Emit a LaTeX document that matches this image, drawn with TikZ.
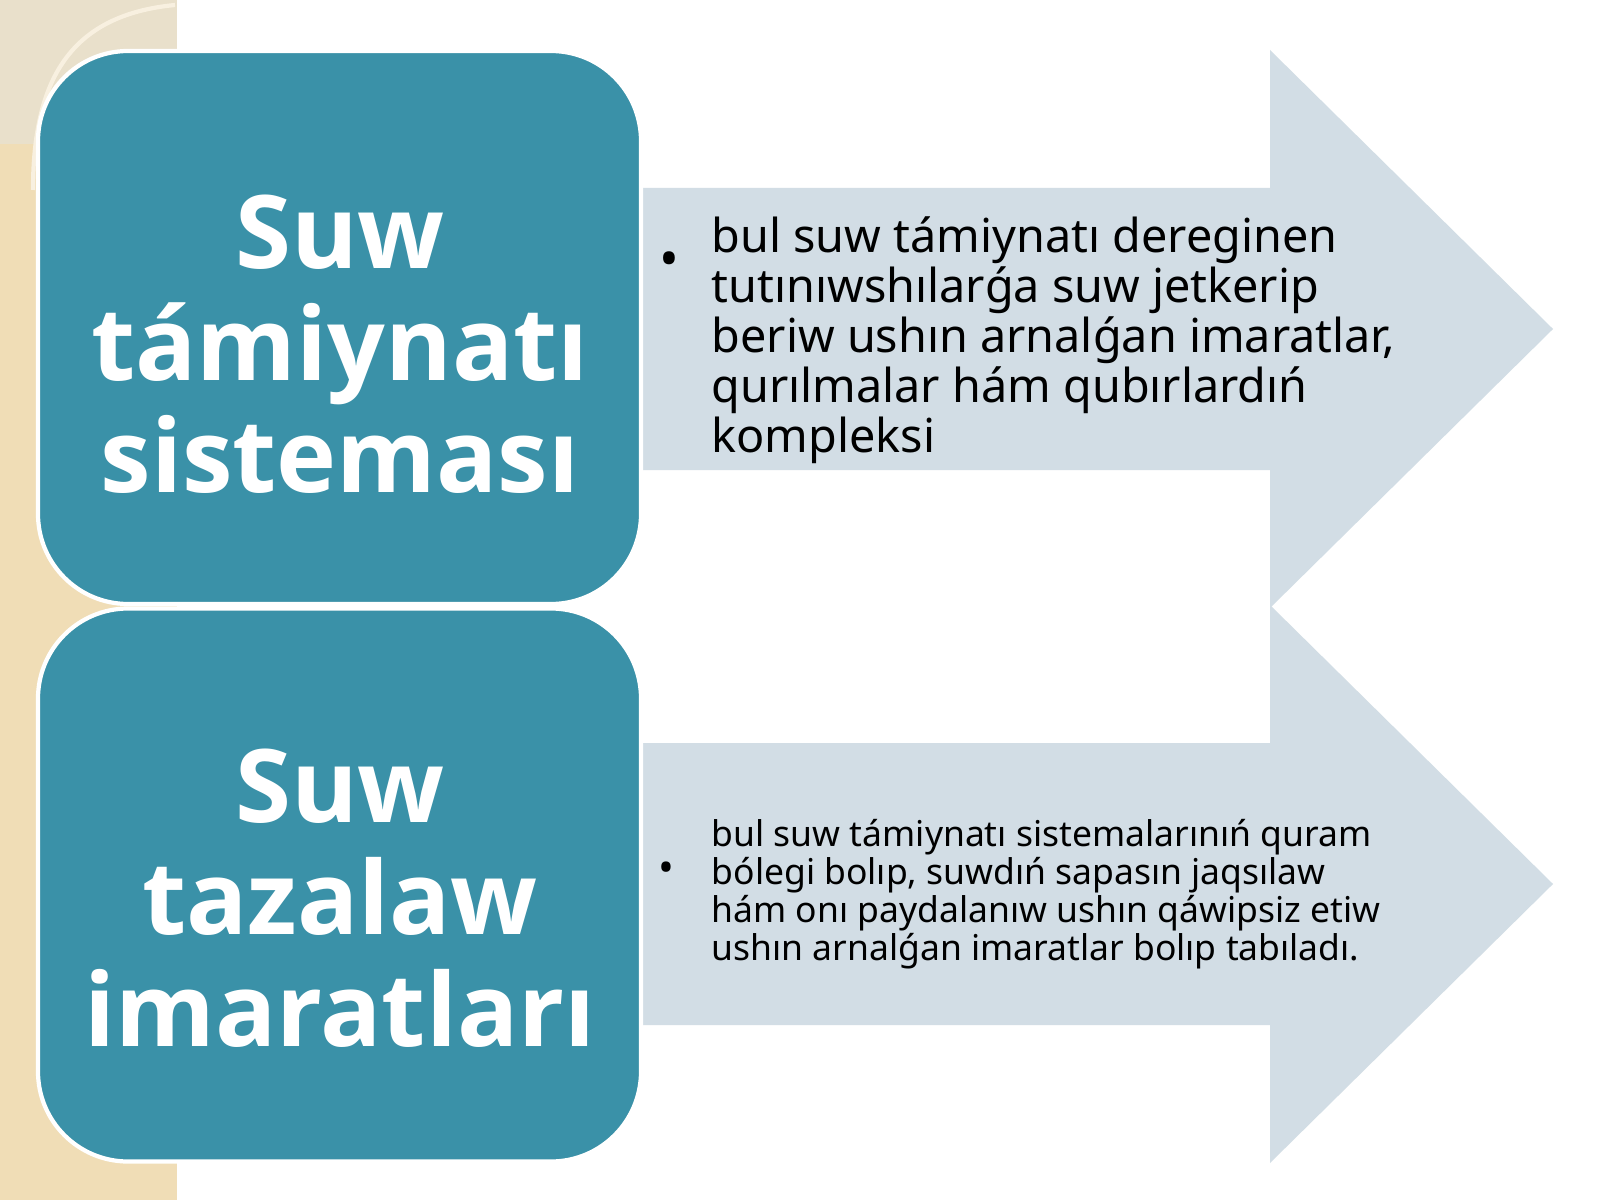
\documentclass[tikz,border=0pt]{standalone}
\usepackage{fontspec}
\setmainfont{Noto Sans}
\newfontfamily\headfont{Open Sans}
\definecolor{teal}{RGB}{58,145,168}
\definecolor{arrowgray}{RGB}{210,221,229}
\definecolor{stripbeige}{RGB}{240,221,182}
\definecolor{topbeige}{RGB}{233,224,203}
\definecolor{cream}{RGB}{248,240,224}
\begin{document}
\begin{tikzpicture}[
    titlebox/.style={draw=white, line width=1.2pt, fill=teal, rounded corners=0.9cm,
      minimum width=6.03cm, minimum height=5.53cm},
    titletext/.style={text=white, align=center, inner sep=0pt,
      font=\headfont\fontsize{28.9}{31.9}\selectfont\bfseries},
    bigtext/.style={anchor=north west, align=left, inner sep=0pt,
      font=\fontsize{13.3}{14.2}\selectfont},
    smalltext/.style={anchor=north west, align=left, inner sep=0pt,
      font=\fontsize{10.1}{10.8}\selectfont},
    bullet/.style={inner sep=0pt}
  ]
    \useasboundingbox (0,0) rectangle (16,12);
    \fill[white] (0,0) rectangle (16,12);
    \fill[stripbeige] (0,0) rectangle (1.77,12);
    \fill[topbeige] (0,10.56) rectangle (1.77,12);
    \draw[cream, line width=1.2pt] (1.75,11.95) .. controls (0.7,11.85) and (0.33,11.2) .. (0.33,10.1);

    % arrows
    \foreach \cy in {8.71,3.16}
    {
      \fill[arrowgray] (6.2,\cy+1.41) -- (12.7,\cy+1.41) -- (12.7,\cy+2.79) -- (15.53,\cy)
        -- (12.7,\cy-2.79) -- (12.7,\cy-1.41) -- (6.2,\cy-1.41) -- cycle;
    };

    \node[titlebox] (supply) at (3.395,8.725) {};
    \node[titlebox] (clean) at (3.395,3.15) {};

    \node[titletext] (supplytxt) at (3.40,8.56) {Suw\\támiynatı\\sisteması};
    \node[titletext] (cleantxt) at (3.40,3.015) {Suw\\tazalaw\\imaratları};

    \node[bullet, font=\fontsize{15}{15}\selectfont] (b1) at (6.69,9.35) {•};
    \node[bigtext] (supplydef) at (7.11,9.84) {bul suw támiynatı dereginen\\
      tutınıwshılarǵa suw jetkerip\\
      beriw ushın arnalǵan imaratlar,\\
      qurılmalar hám qubırlardıń\\
      kompleksi};

    \node[bullet, font=\fontsize{12}{12}\selectfont] (b2) at (6.66,3.28) {•};
    \node[smalltext] (cleandef) at (7.11,3.81) {bul suw támiynatı sistemalarınıń quram\\
      bólegi bolıp, suwdıń sapasın jaqsılaw\\
      hám onı paydalanıw ushın qáwipsiz etiw\\
      ushın arnalǵan imaratlar bolıp tabıladı.};
  \end{tikzpicture}
\end{document}
